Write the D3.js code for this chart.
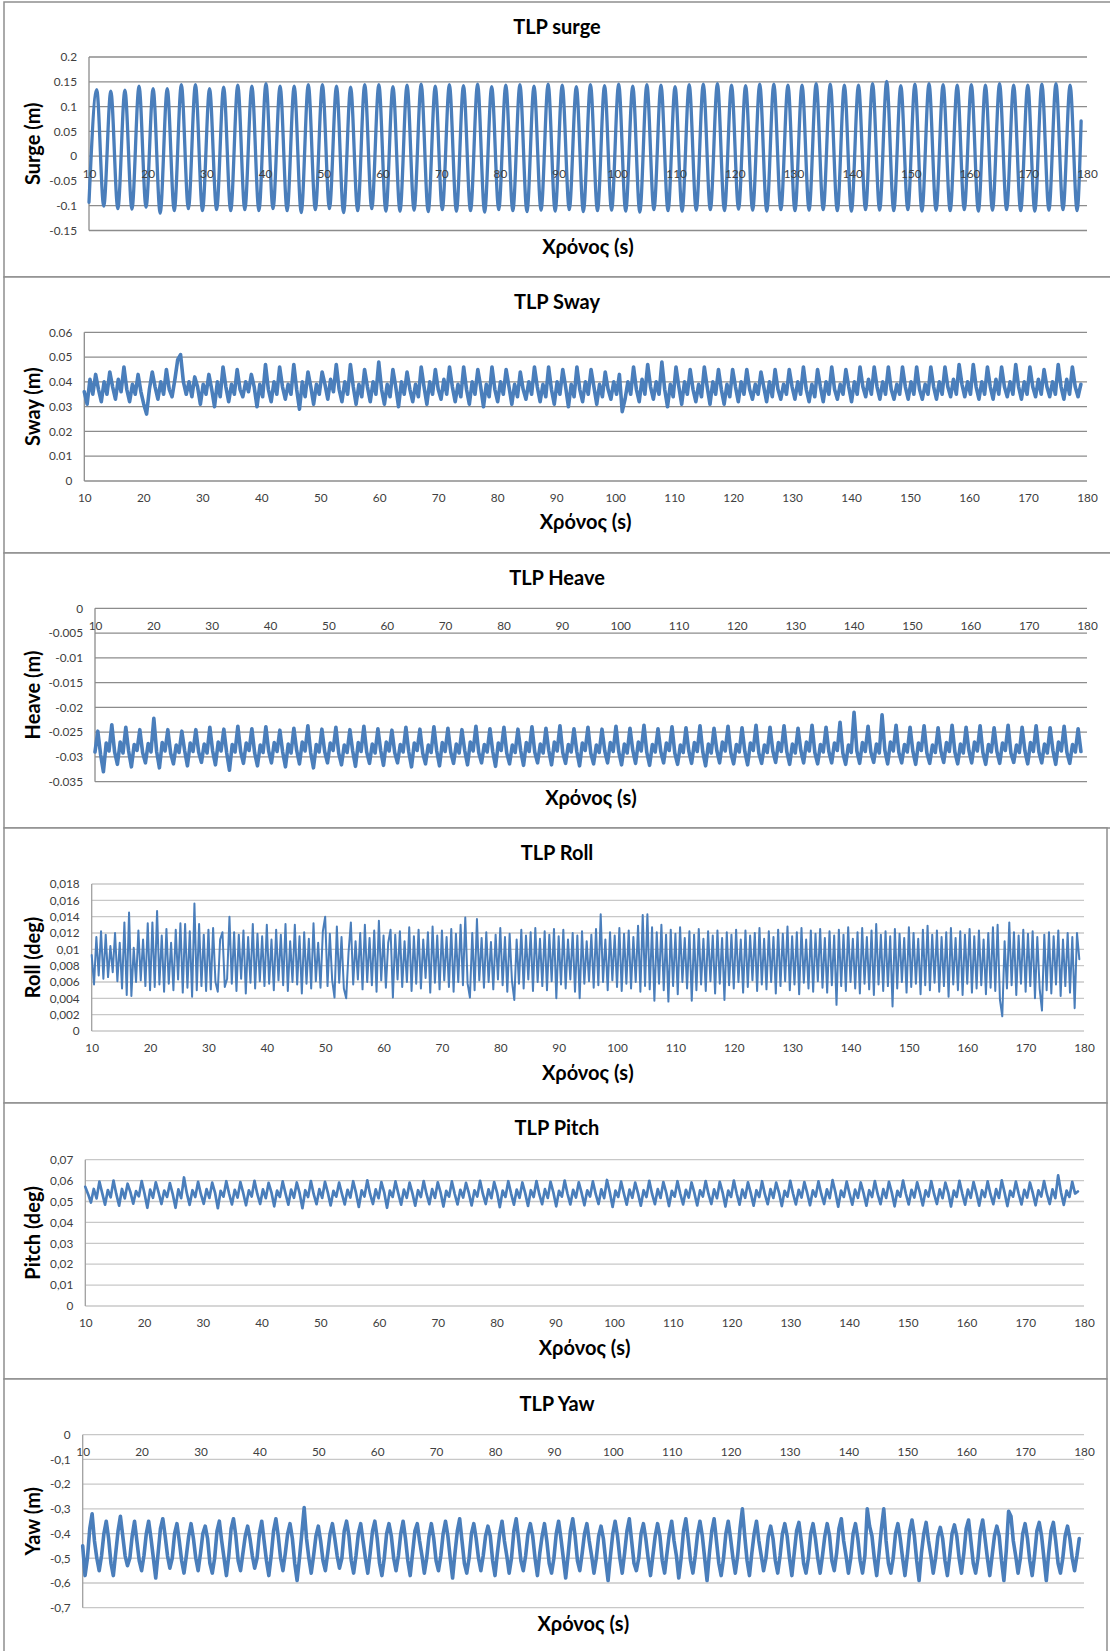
<!DOCTYPE html>
<html><head><meta charset="utf-8">
<script src="https://cdn.jsdelivr.net/npm/d3@7"></script>
<style>
body{margin:0;background:#fff}
svg{display:block}
text{font-family:Lato,"Open Sans",sans-serif}
</style>
</head><body>
<svg id="chart" width="1110" height="1651"></svg>
<script>
// ---------------- DATA ----------------
const xTicks = [10,20,30,40,50,60,70,80,90,100,110,120,130,140,150,160,170,180];

const surgeYTicks = [-0.15,-0.1,-0.05,0,0.05,0.1,0.15,0.2];
const surgeYLabels = ["-0.15","-0.1","-0.05","0","0.05","0.1","0.15","0.2"];
const swayYTicks = [0,0.01,0.02,0.03,0.04,0.05,0.06];
const swayYLabels = ["0","0.01","0.02","0.03","0.04","0.05","0.06"];
const heaveYTicks = [-0.035,-0.03,-0.025,-0.02,-0.015,-0.01,-0.005,0];
const heaveYLabels = ["-0.035","-0.03","-0.025","-0.02","-0.015","-0.01","-0.005","0"];
const rollYTicks = [0,0.002,0.004,0.006,0.008,0.01,0.012,0.014,0.016,0.018];
const rollYLabels = ["0","0,002","0,004","0,006","0,008","0,01","0,012","0,014","0,016","0,018"];
const pitchYTicks = [0,0.01,0.02,0.03,0.04,0.05,0.06,0.07];
const pitchYLabels = ["0","0,01","0,02","0,03","0,04","0,05","0,06","0,07"];
const yawYTicks = [-0.7,-0.6,-0.5,-0.4,-0.3,-0.2,-0.1,0];
const yawYLabels = ["-0,7","-0,6","-0,5","-0,4","-0,3","-0,2","-0,1","0"];

// Surge: start / end samples, and the peak and trough of every wave cycle (period ~2.403 s)
const surgeStart = [10, -0.093];
const surgeEnd = [179.0, 0.071];
const surgeFirstPeakTime = 11.31, surgeFirstTroughTime = 12.51, surgeCycle = 2.403;
const surgePeaks = [
0.134,0.131,0.133,0.141,0.136,0.136,0.144,0.144,0.136,0.139,0.143,0.141,0.146,0.141,0.141,0.144,0.144,0.141,0.139,0.144,0.144,0.140,
0.143,0.145,0.141,0.144,0.142,0.145,0.140,0.143,0.144,0.141,0.145,0.143,0.140,0.144,0.142,0.145,0.141,0.144,0.143,0.140,0.144,
0.145,0.146,0.143,0.142,0.145,0.145,0.143,0.143,0.146,0.145,0.143,0.143,0.146,0.151,0.142,0.145,0.146,0.144,0.143,0.144,0.143,0.146,0.143,0.143,0.145,0.146,0.143];
const surgeTroughs = [
-0.101,-0.106,-0.107,-0.103,-0.115,-0.110,-0.106,-0.110,-0.108,-0.110,-0.108,-0.110,-0.106,-0.110,-0.114,-0.108,-0.106,-0.114,-0.110,-0.106,-0.111,-0.111,
-0.109,-0.112,-0.108,-0.111,-0.110,-0.113,-0.108,-0.110,-0.112,-0.109,-0.111,-0.108,-0.112,-0.110,-0.109,-0.111,-0.113,-0.108,-0.110,-0.111,-0.109,
-0.108,-0.110,-0.107,-0.109,-0.111,-0.108,-0.110,-0.109,-0.108,-0.110,-0.111,-0.108,-0.109,-0.110,-0.108,-0.111,-0.109,-0.110,-0.108,-0.111,-0.109,-0.108,-0.110,-0.111,-0.109,-0.108,-0.110];

// Sway: samples every 0.48 s from t = 10 s
const swayStep = 0.48;
const swayValues = [
0.036,0.031,0.041,0.035,0.043, 0.037,0.032,0.040,0.035,0.044, 0.038,0.033,0.041,0.036,0.046, 0.037,0.032,0.039,0.035,0.043,
0.036,0.031,0.027,0.037,0.044, 0.038,0.033,0.040,0.035,0.045, 0.037,0.034,0.041,0.049,0.051, 0.040,0.035,0.040,0.034,0.042,
0.038,0.031,0.039,0.035,0.043, 0.037,0.030,0.040,0.034,0.046, 0.038,0.032,0.039,0.035,0.045, 0.037,0.034,0.040,0.036,0.043,
0.038,0.030,0.039,0.034,0.047, 0.037,0.032,0.040,0.035,0.046, 0.038,0.033,0.039,0.035,0.047, 0.037,0.029,0.040,0.034,0.044,
0.038,0.031,0.039,0.035,0.044, 0.039,0.033,0.041,0.036,0.047, 0.037,0.032,0.040,0.035,0.047, 0.038,0.031,0.039,0.034,0.045,
0.038,0.032,0.040,0.035,0.048, 0.037,0.031,0.039,0.034,0.045, 0.038,0.030,0.040,0.035,0.044, 0.037,0.032,0.039,0.034,0.046,
0.038,0.031,0.040,0.035,0.045, 0.037,0.033,0.041,0.035,0.046, 0.038,0.032,0.039,0.034,0.046, 0.037,0.031,0.040,0.035,0.045,
0.038,0.030,0.039,0.034,0.046, 0.037,0.032,0.040,0.035,0.045, 0.038,0.031,0.039,0.034,0.044, 0.037,0.033,0.040,0.035,0.046,
0.038,0.032,0.039,0.034,0.046, 0.037,0.031,0.040,0.035,0.045, 0.038,0.030,0.039,0.034,0.046, 0.037,0.032,0.040,0.035,0.045,
0.038,0.031,0.039,0.034,0.044, 0.037,0.033,0.040,0.035,0.043, 0.028,0.033,0.040,0.035,0.046, 0.037,0.032,0.041,0.035,0.047,
0.038,0.033,0.040,0.035,0.048, 0.037,0.030,0.039,0.034,0.046, 0.038,0.031,0.040,0.035,0.045, 0.037,0.032,0.039,0.034,0.046,
0.038,0.031,0.040,0.035,0.045, 0.037,0.031,0.039,0.034,0.045, 0.038,0.032,0.040,0.035,0.045, 0.037,0.033,0.039,0.035,0.044,
0.038,0.032,0.040,0.034,0.045, 0.037,0.033,0.039,0.035,0.045, 0.038,0.033,0.040,0.035,0.046, 0.037,0.032,0.039,0.034,0.045,
0.038,0.032,0.040,0.035,0.046, 0.037,0.033,0.039,0.035,0.045, 0.038,0.032,0.040,0.035,0.046, 0.038,0.034,0.041,0.035,0.046,
0.038,0.033,0.040,0.035,0.046, 0.037,0.033,0.039,0.035,0.046, 0.038,0.033,0.040,0.035,0.046, 0.037,0.033,0.039,0.035,0.046,
0.038,0.033,0.040,0.035,0.046, 0.038,0.034,0.041,0.035,0.047, 0.039,0.034,0.040,0.035,0.047, 0.038,0.033,0.040,0.035,0.046,
0.038,0.033,0.041,0.035,0.046, 0.038,0.034,0.040,0.035,0.047, 0.038,0.033,0.040,0.035,0.046, 0.038,0.034,0.041,0.035,0.045,
0.038,0.034,0.040,0.035,0.047, 0.038,0.033,0.041,0.035,0.046, 0.038,0.034,0.039];

// Heave: samples every 0.48 s from t = 10 s
const heaveStep = 0.48;
const heaveValues = [
-0.0290,-0.0248,-0.0295,-0.0330,-0.0272, -0.0288,-0.0235,-0.0290,-0.0315,-0.0270, -0.0292,-0.0240,-0.0288,-0.0320,-0.0275, -0.0287,-0.0245,-0.0291,-0.0312,-0.0273,
-0.0290,-0.0222,-0.0289,-0.0322,-0.0271, -0.0288,-0.0245,-0.0292,-0.0314,-0.0276, -0.0291,-0.0248,-0.0287,-0.0318,-0.0272, -0.0289,-0.0245,-0.0290,-0.0311,-0.0274,
-0.0292,-0.0240,-0.0288,-0.0316,-0.0270, -0.0288,-0.0244,-0.0291,-0.0327,-0.0275, -0.0290,-0.0238,-0.0289,-0.0313,-0.0272, -0.0287,-0.0243,-0.0292,-0.0318,-0.0276,
-0.0291,-0.0239,-0.0288,-0.0312,-0.0271, -0.0289,-0.0246,-0.0290,-0.0320,-0.0274, -0.0292,-0.0242,-0.0287,-0.0314,-0.0270, -0.0288,-0.0237,-0.0291,-0.0322,-0.0275,
-0.0290,-0.0244,-0.0289,-0.0312,-0.0272, -0.0287,-0.0240,-0.0292,-0.0316,-0.0276, -0.0291,-0.0245,-0.0288,-0.0319,-0.0271, -0.0289,-0.0238,-0.0290,-0.0313,-0.0274,
-0.0292,-0.0243,-0.0287,-0.0317,-0.0270, -0.0288,-0.0246,-0.0291,-0.0312,-0.0275, -0.0290,-0.0240,-0.0289,-0.0320,-0.0272, -0.0287,-0.0244,-0.0292,-0.0314,-0.0276,
-0.0291,-0.0239,-0.0288,-0.0318,-0.0271, -0.0289,-0.0242,-0.0290,-0.0313,-0.0274, -0.0292,-0.0245,-0.0287,-0.0316,-0.0270, -0.0288,-0.0238,-0.0291,-0.0312,-0.0275,
-0.0290,-0.0243,-0.0289,-0.0319,-0.0272, -0.0287,-0.0240,-0.0292,-0.0314,-0.0276, -0.0291,-0.0244,-0.0288,-0.0317,-0.0271, -0.0289,-0.0239,-0.0290,-0.0312,-0.0274,
-0.0292,-0.0242,-0.0287,-0.0316,-0.0270, -0.0288,-0.0237,-0.0291,-0.0313,-0.0275, -0.0290,-0.0243,-0.0289,-0.0318,-0.0272, -0.0287,-0.0240,-0.0292,-0.0314,-0.0276,
-0.0291,-0.0244,-0.0288,-0.0312,-0.0271, -0.0289,-0.0238,-0.0290,-0.0316,-0.0274, -0.0292,-0.0242,-0.0287,-0.0313,-0.0270, -0.0288,-0.0236,-0.0291,-0.0317,-0.0275,
-0.0290,-0.0243,-0.0289,-0.0312,-0.0272, -0.0287,-0.0239,-0.0292,-0.0315,-0.0276, -0.0291,-0.0241,-0.0288,-0.0313,-0.0271, -0.0289,-0.0237,-0.0290,-0.0318,-0.0274,
-0.0292,-0.0242,-0.0287,-0.0312,-0.0270, -0.0288,-0.0238,-0.0291,-0.0314,-0.0275, -0.0290,-0.0241,-0.0289,-0.0316,-0.0272, -0.0287,-0.0236,-0.0292,-0.0313,-0.0276,
-0.0291,-0.0240,-0.0288,-0.0311,-0.0271, -0.0289,-0.0237,-0.0290,-0.0315,-0.0274, -0.0292,-0.0242,-0.0287,-0.0312,-0.0270, -0.0288,-0.0236,-0.0291,-0.0314,-0.0275,
-0.0290,-0.0240,-0.0289,-0.0312,-0.0272, -0.0287,-0.0230,-0.0292,-0.0315,-0.0276, -0.0291,-0.0210,-0.0288,-0.0313,-0.0271, -0.0289,-0.0238,-0.0290,-0.0311,-0.0274,
-0.0292,-0.0215,-0.0287,-0.0314,-0.0270, -0.0288,-0.0236,-0.0291,-0.0312,-0.0275, -0.0290,-0.0240,-0.0289,-0.0315,-0.0272, -0.0287,-0.0237,-0.0292,-0.0313,-0.0276,
-0.0291,-0.0241,-0.0288,-0.0311,-0.0271, -0.0289,-0.0236,-0.0290,-0.0314,-0.0274, -0.0292,-0.0240,-0.0287,-0.0312,-0.0270, -0.0288,-0.0237,-0.0291,-0.0315,-0.0275,
-0.0290,-0.0241,-0.0289,-0.0313,-0.0272, -0.0287,-0.0236,-0.0292,-0.0311,-0.0276, -0.0291,-0.0240,-0.0288,-0.0314,-0.0271, -0.0289,-0.0237,-0.0290,-0.0312,-0.0274,
-0.0292,-0.0241,-0.0287,-0.0315,-0.0270, -0.0288,-0.0238,-0.0291,-0.0313,-0.0275, -0.0290,-0.0243,-0.0289];

// Roll: samples every 0.4 s from t = 10 s
const rollStep = 0.4;
const rollValues = [
0.0093,0.0057,0.0115,0.0068,0.0122,0.0064,0.0118,0.0066,0.0104,0.0072,
0.0120,0.0061,0.0108,0.0052,0.0133,0.0044,0.0145,0.0043,0.0102,0.0060,
0.0123,0.0062,0.0112,0.0055,0.0132,0.0050,0.0133,0.0054,0.0147,0.0057,
0.0117,0.0048,0.0125,0.0058,0.0108,0.0050,0.0124,0.0063,0.0132,0.0047,
0.0131,0.0053,0.0122,0.0042,0.0156,0.0050,0.0131,0.0055,0.0118,0.0049,
0.0124,0.0051,0.0126,0.0060,0.0048,0.0112,0.0121,0.0054,0.0064,0.0140,
0.0058,0.0121,0.0049,0.0118,0.0064,0.0123,0.0046,0.0115,0.0059,0.0131,
0.0052,0.0119,0.0061,0.0116,0.0055,0.0130,0.0058,0.0112,0.0050,0.0124,
0.0062,0.0118,0.0056,0.0131,0.0049,0.0110,0.0060,0.0130,0.0057,0.0116,
0.0046,0.0121,0.0058,0.0113,0.0052,0.0132,0.0061,0.0108,0.0053,0.0122,
0.0140,0.0055,0.0119,0.0062,0.0041,0.0128,0.0059,0.0115,0.0052,0.0040,
0.0096,0.0133,0.0057,0.0110,0.0063,0.0120,0.0051,0.0130,0.0060,0.0114,
0.0056,0.0123,0.0048,0.0135,0.0062,0.0117,0.0053,0.0108,0.0124,0.0041,
0.0118,0.0063,0.0122,0.0054,0.0110,0.0060,0.0127,0.0049,0.0116,0.0058,
0.0124,0.0052,0.0112,0.0065,0.0121,0.0047,0.0128,0.0059,0.0117,0.0051,
0.0123,0.0062,0.0115,0.0054,0.0125,0.0048,0.0119,0.0060,0.0130,0.0056,
0.0139,0.0058,0.0041,0.0120,0.0050,0.0137,0.0062,0.0114,0.0053,0.0121,
0.0060,0.0109,0.0051,0.0118,0.0063,0.0126,0.0056,0.0115,0.0048,0.0119,
0.0061,0.0038,0.0112,0.0058,0.0124,0.0052,0.0117,0.0063,0.0121,0.0049,
0.0126,0.0060,0.0113,0.0055,0.0122,0.0050,0.0118,0.0061,0.0125,0.0040,
0.0116,0.0057,0.0124,0.0052,0.0112,0.0063,0.0120,0.0048,0.0117,0.0040,
0.0122,0.0058,0.0110,0.0061,0.0118,0.0053,0.0125,0.0056,0.0143,0.0060,
0.0112,0.0050,0.0121,0.0062,0.0117,0.0054,0.0126,0.0049,0.0119,0.0058,
0.0123,0.0052,0.0115,0.0060,0.0129,0.0048,0.0142,0.0055,0.0143,0.0051,
0.0127,0.0037,0.0121,0.0058,0.0130,0.0050,0.0118,0.0036,0.0124,0.0055,
0.0119,0.0045,0.0127,0.0060,0.0114,0.0052,0.0122,0.0037,0.0118,0.0050,
0.0125,0.0057,0.0113,0.0049,0.0122,0.0061,0.0117,0.0046,0.0123,0.0058,
0.0114,0.0038,0.0121,0.0056,0.0118,0.0052,0.0124,0.0060,0.0112,0.0047,
0.0123,0.0054,0.0117,0.0062,0.0120,0.0049,0.0126,0.0057,0.0113,0.0051,
0.0122,0.0060,0.0115,0.0046,0.0124,0.0055,0.0119,0.0061,0.0128,0.0050,
0.0116,0.0057,0.0121,0.0045,0.0126,0.0059,0.0112,0.0052,0.0123,0.0048,
0.0119,0.0061,0.0125,0.0053,0.0114,0.0047,0.0122,0.0056,0.0117,0.0032,
0.0124,0.0055,0.0118,0.0049,0.0127,0.0060,0.0113,0.0052,0.0121,0.0046,
0.0126,0.0058,0.0115,0.0051,0.0123,0.0044,0.0131,0.0057,0.0118,0.0049,
0.0122,0.0055,0.0116,0.0030,0.0125,0.0052,0.0119,0.0060,0.0114,0.0047,
0.0127,0.0054,0.0120,0.0058,0.0113,0.0045,0.0124,0.0056,0.0129,0.0050,
0.0118,0.0059,0.0123,0.0048,0.0115,0.0055,0.0121,0.0042,0.0126,0.0057,
0.0114,0.0050,0.0122,0.0044,0.0118,0.0058,0.0125,0.0047,0.0116,0.0052,
0.0123,0.0056,0.0112,0.0045,0.0120,0.0053,0.0127,0.0049,0.0130,0.0038,
0.0018,0.0110,0.0052,0.0133,0.0056,0.0121,0.0044,0.0117,0.0058,0.0124,
0.0048,0.0119,0.0055,0.0122,0.0040,0.0115,0.0052,0.0025,0.0118,0.0050,
0.0121,0.0046,0.0116,0.0057,0.0123,0.0043,0.0112,0.0055,0.0120,0.0047,
0.0115,0.0028,0.0120,0.0088];

// Pitch: samples every 0.48 s from t = 10 s
const pitchStep = 0.48;
const pitchValues = [
0.0570,0.0535,0.0495,0.0560,0.0515, 0.0595,0.0540,0.0485,0.0555,0.0520, 0.0600,0.0535,0.0480,0.0560,0.0515, 0.0585,0.0545,0.0490,0.0550,0.0525,
0.0598,0.0538,0.0470,0.0557,0.0518, 0.0592,0.0542,0.0488,0.0552,0.0522, 0.0588,0.0536,0.0470,0.0558,0.0516, 0.0615,0.0540,0.0484,0.0554,0.0521,
0.0594,0.0535,0.0489,0.0559,0.0517, 0.0590,0.0543,0.0468,0.0551,0.0523, 0.0597,0.0537,0.0486,0.0556,0.0519, 0.0593,0.0541,0.0482,0.0553,0.0524,
0.0599,0.0536,0.0488,0.0558,0.0516, 0.0589,0.0544,0.0477,0.0552,0.0522, 0.0596,0.0538,0.0485,0.0557,0.0518, 0.0591,0.0540,0.0468,0.0554,0.0521,
0.0598,0.0535,0.0487,0.0559,0.0517, 0.0594,0.0543,0.0481,0.0551,0.0523, 0.0590,0.0537,0.0486,0.0556,0.0519, 0.0597,0.0541,0.0474,0.0553,0.0524,
0.0601,0.0536,0.0488,0.0558,0.0516, 0.0593,0.0544,0.0470,0.0552,0.0522, 0.0596,0.0538,0.0485,0.0557,0.0518, 0.0590,0.0540,0.0480,0.0554,0.0521,
0.0598,0.0536,0.0487,0.0559,0.0517, 0.0592,0.0543,0.0476,0.0551,0.0523, 0.0596,0.0537,0.0486,0.0556,0.0519, 0.0589,0.0541,0.0481,0.0553,0.0524,
0.0599,0.0536,0.0488,0.0558,0.0516, 0.0593,0.0544,0.0473,0.0552,0.0522, 0.0597,0.0538,0.0485,0.0557,0.0518, 0.0591,0.0540,0.0479,0.0554,0.0521,
0.0598,0.0535,0.0487,0.0559,0.0517, 0.0594,0.0543,0.0477,0.0551,0.0523, 0.0600,0.0537,0.0486,0.0556,0.0519, 0.0592,0.0541,0.0482,0.0553,0.0524,
0.0596,0.0536,0.0488,0.0558,0.0516, 0.0603,0.0544,0.0474,0.0552,0.0522, 0.0595,0.0538,0.0485,0.0557,0.0518, 0.0590,0.0540,0.0480,0.0554,0.0521,
0.0599,0.0536,0.0487,0.0559,0.0517, 0.0593,0.0543,0.0478,0.0551,0.0523, 0.0597,0.0537,0.0486,0.0556,0.0519, 0.0591,0.0541,0.0481,0.0553,0.0524,
0.0598,0.0536,0.0488,0.0558,0.0516, 0.0594,0.0544,0.0476,0.0552,0.0522, 0.0600,0.0538,0.0485,0.0557,0.0518, 0.0592,0.0540,0.0480,0.0554,0.0521,
0.0597,0.0535,0.0487,0.0559,0.0517, 0.0590,0.0543,0.0478,0.0551,0.0523, 0.0599,0.0537,0.0486,0.0556,0.0519, 0.0593,0.0541,0.0482,0.0553,0.0524,
0.0596,0.0536,0.0488,0.0558,0.0516, 0.0602,0.0544,0.0475,0.0552,0.0522, 0.0595,0.0538,0.0485,0.0557,0.0518, 0.0591,0.0540,0.0480,0.0554,0.0521,
0.0598,0.0535,0.0487,0.0559,0.0517, 0.0594,0.0543,0.0477,0.0551,0.0523, 0.0600,0.0537,0.0486,0.0556,0.0519, 0.0592,0.0541,0.0481,0.0553,0.0524,
0.0597,0.0536,0.0488,0.0558,0.0516, 0.0590,0.0544,0.0476,0.0552,0.0522, 0.0599,0.0538,0.0485,0.0557,0.0518, 0.0593,0.0540,0.0480,0.0554,0.0521,
0.0596,0.0535,0.0487,0.0559,0.0517, 0.0601,0.0543,0.0478,0.0551,0.0523, 0.0595,0.0537,0.0486,0.0556,0.0519, 0.0591,0.0541,0.0482,0.0553,0.0524,
0.0598,0.0536,0.0488,0.0558,0.0516, 0.0625,0.0544,0.0484,0.0552,0.0522, 0.0594,0.0538,0.0548];

// Yaw: samples every 0.4 s from t = 10 s
const yawStep = 0.4;
const yawValues = [
-0.45,-0.57,-0.50,-0.38,-0.32,-0.43, -0.50,-0.55,-0.49,-0.40,-0.35,-0.42, -0.52,-0.57,-0.48,-0.39,-0.33,-0.41, -0.49,-0.53,-0.50,-0.41,-0.35,-0.43,
-0.51,-0.55,-0.49,-0.40,-0.35,-0.42, -0.50,-0.58,-0.48,-0.38,-0.34,-0.41, -0.49,-0.54,-0.50,-0.40,-0.36,-0.43, -0.51,-0.56,-0.49,-0.41,-0.36,-0.42,
-0.50,-0.55,-0.48,-0.40,-0.37,-0.42, -0.52,-0.56,-0.50,-0.39,-0.35,-0.43, -0.50,-0.57,-0.49,-0.38,-0.34,-0.41, -0.51,-0.55,-0.48,-0.41,-0.37,-0.42,
-0.49,-0.54,-0.50,-0.40,-0.35,-0.43, -0.51,-0.57,-0.49,-0.39,-0.34,-0.41, -0.50,-0.55,-0.48,-0.40,-0.36,-0.42, -0.52,-0.59,-0.50,-0.40,-0.295,-0.42,
-0.50,-0.56,-0.49,-0.41,-0.37,-0.43, -0.51,-0.55,-0.48,-0.40,-0.36,-0.42, -0.49,-0.54,-0.50,-0.39,-0.35,-0.41, -0.51,-0.56,-0.49,-0.40,-0.36,-0.43,
-0.50,-0.56,-0.48,-0.39,-0.35,-0.42, -0.52,-0.57,-0.50,-0.40,-0.36,-0.41, -0.50,-0.55,-0.49,-0.40,-0.35,-0.42, -0.51,-0.57,-0.48,-0.39,-0.36,-0.43,
-0.49,-0.56,-0.50,-0.41,-0.36,-0.42, -0.51,-0.55,-0.49,-0.40,-0.35,-0.41, -0.50,-0.58,-0.48,-0.39,-0.34,-0.43, -0.52,-0.56,-0.50,-0.40,-0.36,-0.42,
-0.50,-0.55,-0.49,-0.41,-0.37,-0.41, -0.51,-0.57,-0.48,-0.40,-0.35,-0.43, -0.49,-0.56,-0.50,-0.39,-0.34,-0.42, -0.51,-0.55,-0.49,-0.40,-0.36,-0.41,
-0.50,-0.57,-0.48,-0.41,-0.36,-0.43, -0.52,-0.56,-0.50,-0.40,-0.35,-0.42, -0.50,-0.58,-0.49,-0.39,-0.34,-0.41, -0.51,-0.55,-0.48,-0.40,-0.36,-0.43,
-0.49,-0.56,-0.50,-0.41,-0.37,-0.42, -0.51,-0.59,-0.49,-0.40,-0.35,-0.41, -0.50,-0.56,-0.48,-0.39,-0.34,-0.43, -0.52,-0.55,-0.50,-0.40,-0.36,-0.42,
-0.50,-0.57,-0.49,-0.41,-0.36,-0.41, -0.51,-0.56,-0.48,-0.40,-0.35,-0.43, -0.49,-0.58,-0.50,-0.39,-0.34,-0.42, -0.51,-0.56,-0.49,-0.40,-0.35,-0.41,
-0.50,-0.59,-0.48,-0.39,-0.34,-0.43, -0.52,-0.57,-0.50,-0.40,-0.35,-0.42, -0.50,-0.56,-0.49,-0.38,-0.30,-0.41, -0.51,-0.57,-0.48,-0.40,-0.35,-0.43,
-0.49,-0.55,-0.50,-0.41,-0.37,-0.42, -0.51,-0.56,-0.49,-0.40,-0.36,-0.41, -0.50,-0.57,-0.48,-0.39,-0.355,-0.43, -0.52,-0.56,-0.50,-0.40,-0.36,-0.42,
-0.50,-0.56,-0.49,-0.41,-0.36,-0.41, -0.51,-0.55,-0.48,-0.38,-0.34,-0.43, -0.49,-0.56,-0.50,-0.40,-0.36,-0.42, -0.51,-0.56,-0.49,-0.30,-0.37,-0.41,
-0.50,-0.57,-0.48,-0.38,-0.30,-0.43, -0.52,-0.56,-0.50,-0.40,-0.36,-0.42, -0.50,-0.57,-0.49,-0.39,-0.345,-0.41, -0.51,-0.59,-0.48,-0.40,-0.355,-0.43,
-0.49,-0.56,-0.50,-0.41,-0.375,-0.42, -0.51,-0.57,-0.49,-0.40,-0.365,-0.41, -0.50,-0.56,-0.48,-0.38,-0.345,-0.43, -0.52,-0.56,-0.50,-0.39,-0.345,-0.42,
-0.50,-0.57,-0.49,-0.41,-0.37,-0.41, -0.51,-0.59,-0.47,-0.31,-0.33,-0.43, -0.49,-0.56,-0.50,-0.40,-0.36,-0.42, -0.51,-0.57,-0.49,-0.39,-0.355,-0.41,
-0.50,-0.59,-0.48,-0.39,-0.355,-0.43, -0.52,-0.56,-0.50,-0.41,-0.37,-0.42, -0.50,-0.55,-0.49,-0.42];

// ---------------- BUILD SERIES ----------------
const T0 = 10;
function sampled(values, step) { return values.map((v, i) => ({t: T0 + i * step, v})); }

const surgeSeries = [{t: surgeStart[0], v: surgeStart[1]}];
surgePeaks.forEach((p, k) => {
  surgeSeries.push({t: surgeFirstPeakTime + k * surgeCycle, v: p});
  surgeSeries.push({t: surgeFirstTroughTime + k * surgeCycle, v: surgeTroughs[k]});
});
surgeSeries.push({t: surgeEnd[0], v: surgeEnd[1]});

// ---------------- LAYOUT / STYLE ----------------
const LINE_COLOR = "#4a7ebb";
const panels = [
  {title:"TLP surge", yTitle:"Surge (m)", series:surgeSeries, curve:d3.curveMonotoneX,
   domain:[-0.15,0.2], yTicks:surgeYTicks, yLabels:surgeYLabels, xAxisAt:0,
   box:[4,2,1112,277], left:89, right:1087, top:57, bottom:230.5, grid:"#8c8c8c", axis:"#8c8c8c", lw:3.3},
  {title:"TLP Sway", yTitle:"Sway (m)", series:sampled(swayValues, swayStep), curve:d3.curveLinear,
   domain:[0,0.06], yTicks:swayYTicks, yLabels:swayYLabels, xAxisAt:0,
   box:[4,277,1112,553], left:84.3, right:1087, top:332.3, bottom:481, grid:"#8c8c8c", axis:"#8c8c8c", lw:3.6},
  {title:"TLP Heave", yTitle:"Heave (m)", series:sampled(heaveValues, heaveStep), curve:d3.curveLinear,
   domain:[-0.035,0], yTicks:heaveYTicks, yLabels:heaveYLabels, xAxisAt:0,
   box:[4,553,1112,828], left:95, right:1087, top:608.3, bottom:781.7, grid:"#8c8c8c", axis:"#8c8c8c", lw:3.6},
  {title:"TLP Roll", yTitle:"Roll (deg)", series:sampled(rollValues, rollStep), curve:d3.curveLinear,
   domain:[0,0.018], yTicks:rollYTicks, yLabels:rollYLabels, xAxisAt:0,
   box:[4,828,1107,1103], left:91.7, right:1084, top:884, bottom:1031, grid:"#c8c8c8", axis:"#a0a0a0", lw:2.0},
  {title:"TLP Pitch", yTitle:"Pitch (deg)", series:sampled(pitchValues, pitchStep), curve:d3.curveLinear,
   domain:[0,0.07], yTicks:pitchYTicks, yLabels:pitchYLabels, xAxisAt:0,
   box:[4,1103,1107,1379], left:85.3, right:1084, top:1159.7, bottom:1306, grid:"#c8c8c8", axis:"#a0a0a0", lw:2.7},
  {title:"TLP Yaw", yTitle:"Yaw (m)", series:sampled(yawValues, yawStep), curve:d3.curveLinear,
   domain:[-0.7,0], yTicks:yawYTicks, yLabels:yawYLabels, xAxisAt:0,
   box:[4,1379,1107,1660], left:82.7, right:1084, top:1434.7, bottom:1607.7, grid:"#c8c8c8", axis:"#a0a0a0", lw:3.6}
];

const svg = d3.select("#chart");
svg.append("rect").attr("width",1110).attr("height",1651).attr("fill","#fff");

panels.forEach(p => {
  const g = svg.append("g");
  const [bx0, by0, bx1, by1] = p.box;
  g.append("rect").attr("x",bx0).attr("y",by0).attr("width",bx1-bx0).attr("height",by1-by0)
    .attr("fill","#fff").attr("stroke","#8e8e8e").attr("stroke-width",1.5);

  const x = d3.scaleLinear().domain([10,180]).range([p.left, p.right]);
  const y = d3.scaleLinear().domain(p.domain).range([p.bottom, p.top]);

  // horizontal gridlines
  g.append("g").selectAll("line").data(p.yTicks).join("line")
    .attr("x1",p.left).attr("x2",p.right)
    .attr("y1",d=>y(d)).attr("y2",d=>y(d))
    .attr("stroke",p.grid).attr("stroke-width",1.3);
  // vertical axis line
  g.append("line").attr("x1",p.left).attr("x2",p.left).attr("y1",p.top).attr("y2",p.bottom)
    .attr("stroke",p.axis).attr("stroke-width",1.3);

  // series line
  const line = d3.line().x(d=>x(d.t)).y(d=>y(d.v)).curve(p.curve);
  g.append("path").datum(p.series).attr("d",line)
    .attr("fill","none").attr("stroke",LINE_COLOR).attr("stroke-width",p.lw)
    .attr("stroke-linejoin","round").attr("stroke-linecap","round");

  // y axis labels
  const yAxis = d3.axisLeft(y).tickValues(p.yTicks).tickFormat((d,i)=>p.yLabels[i]).tickSize(0).tickPadding(12);
  const yg = g.append("g").attr("transform",`translate(${p.left},0)`).call(yAxis);
  yg.select(".domain").remove();
  yg.selectAll("text").attr("font-family","Lato").attr("font-size",11.8).attr("fill","#404040");

  // x axis labels
  const xAxis = d3.axisBottom(x).tickValues(xTicks).tickFormat(d3.format("d")).tickSize(0).tickPadding(13);
  const xg = g.append("g").attr("transform",`translate(0,${y(p.xAxisAt)})`).call(xAxis);
  xg.select(".domain").remove();
  xg.selectAll("text").attr("font-family","Lato").attr("font-size",11.8).attr("fill","#404040");

  // titles
  g.append("text").attr("x",557).attr("y",by0+31.5).attr("text-anchor","middle")
    .attr("font-size",20).attr("font-weight","bold").attr("fill","#000").text(p.title);
  g.append("text").attr("x",(p.left+p.right)/2).attr("y",by0+252).attr("text-anchor","middle")
    .attr("font-size",20).attr("font-weight","bold").attr("fill","#000").text("Χρόνος (s)");
  g.append("text").attr("transform",`translate(40,${(p.top+p.bottom)/2}) rotate(-90)`)
    .attr("text-anchor","middle").attr("font-size",20).attr("font-weight","bold").attr("fill","#000").text(p.yTitle);
});
</script>
</body></html>
